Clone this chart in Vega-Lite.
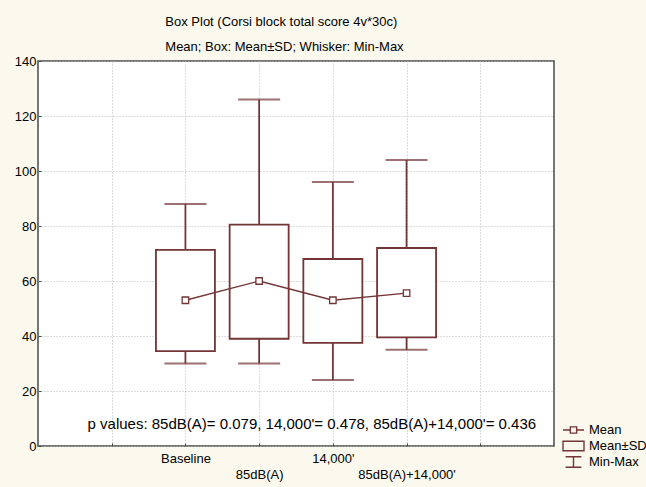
{
  "$schema": "https://vega.github.io/schema/vega-lite/v6.json",
  "autosize": "none",
  "width": 516,
  "height": 385,
  "padding": {"left": 38, "top": 61, "right": 92, "bottom": 41},
  "background": "#fbf8ee",
  "title": {
    "text": "Box Plot (Corsi block total score 4v*30c)",
    "subtitle": "Mean; Box: Mean±SD; Whisker: Min-Max",
    "anchor": "start",
    "dx": 151,
    "offset": 1,
    "subtitlePadding": 12,
    "fontSize": 13,
    "fontWeight": "normal",
    "subtitleFontSize": 13,
    "font": "Liberation Sans",
    "subtitleFont": "Liberation Sans",
    "color": "#000000",
    "subtitleColor": "#000000"
  },
  "data": {
    "values": [
      {"group": "Baseline", "mean": 53, "lo": 34.5, "hi": 71.3, "min": 30, "max": 88},
      {"group": "85dB(A)", "mean": 60, "lo": 39, "hi": 80.5, "min": 30, "max": 126},
      {"group": "14,000'", "mean": 53, "lo": 37.5, "hi": 68, "min": 24, "max": 96},
      {"group": "85dB(A)+14,000'", "mean": 55.6, "lo": 39.5, "hi": 72, "min": 35, "max": 104}
    ]
  },
  "encoding": {
    "x": {
      "field": "group",
      "type": "nominal",
      "sort": null,
      "title": null,
      "scale": {
        "type": "point",
        "domain": ["_a", "Baseline", "85dB(A)", "14,000'", "85dB(A)+14,000'", "_b"],
        "padding": 1
      },
      "axis": {
        "labelExpr": "indexof(datum.value,'_')==0 ? '' : datum.value",
        "labelAngle": 0,
        "labelFontSize": 13,
        "labelColor": "#000000",
        "labelBaseline": "top",
        "labelPadding": {"condition": {"test": "indexof(datum.value,'85dB')==0", "value": 25}, "value": 9},
        "ticks": true,
        "tickSize": -3,
        "tickColor": "#4a4a4a",
        "domain": false,
        "grid": true,
        "gridColor": "#b8b8b8",
        "gridDash": [1, 2],
        "gridWidth": 1
      }
    }
  },
  "layer": [
    {
      "mark": {"type": "rule", "color": "#733535", "strokeWidth": 1.8},
      "encoding": {
        "y": {
          "field": "min",
          "type": "quantitative",
          "title": null,
          "scale": {"domain": [0, 140], "nice": false, "zero": true},
          "axis": {
            "values": [0, 20, 40, 60, 80, 100, 120, 140],
            "labelFontSize": 13,
            "labelColor": "#000000",
            "labelPadding": 5,
            "ticks": true,
            "tickSize": -3,
            "tickColor": "#4a4a4a",
            "domain": false,
            "grid": true,
            "gridColor": "#b8b8b8",
            "gridDash": [1, 2],
            "gridWidth": 1
          }
        },
        "y2": {"field": "lo"}
      }
    },
    {
      "mark": {"type": "rule", "color": "#733535", "strokeWidth": 1.8},
      "encoding": {
        "y": {"field": "hi", "type": "quantitative", "title": null},
        "y2": {"field": "max"}
      }
    },
    {
      "mark": {"type": "bar", "fill": "#ffffff", "stroke": "#733535", "strokeWidth": 1.8, "size": 59},
      "encoding": {
        "y": {"field": "lo", "type": "quantitative", "title": null},
        "y2": {"field": "hi"}
      }
    },
    {
      "mark": {"type": "tick", "color": "#733535", "size": 42, "thickness": 1.8},
      "encoding": {
        "y": {"field": "min", "type": "quantitative", "title": null}
      }
    },
    {
      "mark": {"type": "tick", "color": "#733535", "size": 42, "thickness": 1.8},
      "encoding": {
        "y": {"field": "max", "type": "quantitative", "title": null}
      }
    },
    {
      "mark": {"type": "line", "color": "#733535", "strokeWidth": 1.3},
      "encoding": {
        "y": {"field": "mean", "type": "quantitative", "title": null}
      }
    },
    {
      "mark": {"type": "point", "shape": "square", "filled": true, "fill": "#ffffff", "stroke": "#733535", "strokeWidth": 1.3, "size": 42, "opacity": 1},
      "encoding": {
        "y": {"field": "mean", "type": "quantitative", "title": null}
      }
    },
    {
      "mark": {"type": "point", "opacity": 0},
      "encoding": {
        "y": {"field": "mean", "type": "quantitative", "title": null},
        "shape": {
          "datum": "Mean",
          "scale": {
            "domain": ["Mean", "Mean±SD", "Min-Max"],
            "range": [
              "M-1,0H-0.3M0.3,0H1M-0.3,-0.3H0.3V0.3H-0.3Z",
              "M-1,-0.45H1V0.45H-1Z",
              "M-0.75,-0.5H0.75M0,-0.5V0.5M-0.75,0.5H0.75"
            ]
          },
          "legend": {
            "title": null,
            "orient": "none",
            "legendX": 524,
            "legendY": 361,
            "padding": 0,
            "symbolSize": 441,
            "symbolOpacity": 1,
            "symbolStrokeColor": "#733535",
            "symbolFillColor": "transparent",
            "symbolStrokeWidth": 1.4,
            "labelFontSize": 13,
            "labelColor": "#000000",
            "labelOffset": 4,
            "clipHeight": 16,
            "rowPadding": 0
          }
        }
      }
    },
    {
      "data": {"values": [{"note": "p values: 85dB(A)= 0.079, 14,000'= 0.478, 85dB(A)+14,000'= 0.436"}]},
      "mark": {"type": "text", "fontSize": 15, "color": "#000000", "align": "center", "baseline": "middle", "dx": -21},
      "encoding": {
        "x": {"datum": "14,000'"},
        "y": {"datum": 8},
        "text": {"field": "note"}
      }
    }
  ],
  "config": {
    "font": "Liberation Sans",
    "view": {"stroke": "#4a4a4a", "strokeWidth": 1.5, "fill": "#ffffff"}
  }
}
